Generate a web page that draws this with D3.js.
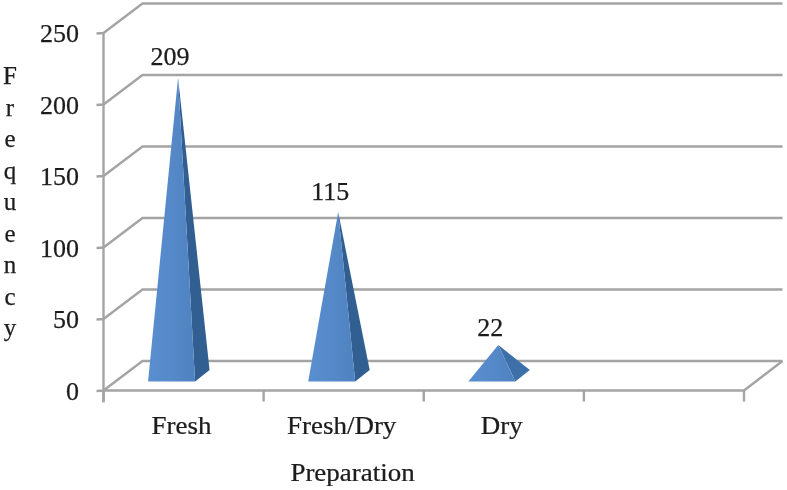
<!DOCTYPE html>
<html><head><meta charset="utf-8">
<script src="https://cdnjs.cloudflare.com/ajax/libs/d3/7.8.5/d3.min.js"></script>
<style>html,body{margin:0;padding:0;background:#fff}svg{display:block}text{font-family:"Liberation Serif",serif;fill:#1c1c1c;stroke:#1c1c1c;stroke-width:0.25}</style>
</head><body><svg id="c" width="787" height="490"></svg>
<script>
const categories = ["Fresh", "Fresh/Dry", "Dry", " "];
const frequency = [209, 115, 22];
const yTicks = [0, 50, 100, 150, 200, 250];
const yTitleLetters = ["F","r","e","q","u","e","n","c","y"];
const xTitle = "Preparation";

const svg = d3.select("#c");
const defs = svg.append("defs");
const blur = defs.append("filter").attr("id","soft").attr("x","-5%").attr("y","-5%").attr("width","110%").attr("height","110%");
blur.append("feGaussianBlur").attr("stdDeviation",0.65);
const g = svg.append("g").attr("filter","url(#soft)");

const depthX = 39, depthY = -29.5;
const y = d3.scaleLinear().domain([0,250]).range([390.5,33]);
const x = d3.scaleBand().domain(categories).range([103.5,744]);
const wall = "#a4a4a4";

const grid = g.append("g").attr("fill","none").attr("stroke",wall).attr("stroke-width",2.4);
yTicks.forEach(t=>{
  const pts = [[x.range()[0]-7, y(t)+0.5],[x.range()[0], y(t)],[x.range()[0]+depthX, y(t)+depthY],[x.range()[1]+depthX-0.5, y(t)+depthY]];
  grid.append("path").attr("d", d3.line()(pts));
});
grid.append("path").attr("d", d3.line()([[x.range()[0],y(250)],[x.range()[0],y(0)+12]]));
grid.append("path").attr("d", d3.line()([[x.range()[0],y(0)],[x.range()[1],y(0)],[x.range()[1]+depthX-0.5,y(0)+depthY]]));
const xEdges = categories.map(c=>x(c)).concat([x.range()[1]]);
grid.selectAll("line.t").data(xEdges).join("line")
  .attr("x1",d=>d).attr("x2",d=>d).attr("y1",y(0)).attr("y2",y(0)+11);

const halfFront = 23.5, baseFrontY = 381.5, baseBackX = 14.5, baseBackY = -11.5;
const apexShift = -5.5, frontShift = -6.5;
const grad = (id,a,b)=>{ const l = defs.append("linearGradient").attr("id",id).attr("x1","0").attr("x2","1").attr("y1","0").attr("y2","0");
  l.append("stop").attr("offset","0").attr("stop-color",a); l.append("stop").attr("offset","1").attr("stop-color",b); };
grad("front","#5a8fd0","#4f82c0");
grad("side","#2f5d90","#335f92");
const pyr = g.append("g");
const labelDrop = [13, 12, 9];
frequency.forEach((v,i)=>{
  const c = x(categories[i]) + x.bandwidth()/2 + apexShift;
  const cx0 = c + frontShift;
  const l = cx0 - halfFront, r = cx0 + halfFront;
  const bx = r + baseBackX, by = baseFrontY + baseBackY;
  const apexX = c, apexY = y(0) - 14 - (y(0)-y(v));
  pyr.append("path").attr("d", d3.line()([[r,baseFrontY],[bx,by],[apexX,apexY]])+"Z").attr("fill", v<50 ? "#3d6fa9" : "url(#side)");
  pyr.append("path").attr("d", d3.line()([[l,baseFrontY],[r,baseFrontY],[apexX,apexY]])+"Z").attr("fill","url(#front)");
  g.append("text").attr("x",apexX-8).attr("y",apexY-labelDrop[i]).attr("text-anchor","middle").attr("font-size",26).text(v);
});

g.selectAll("text.yt").data(yTicks).join("text").attr("class","yt")
  .attr("x",79).attr("y",d=>y(d)+9).attr("text-anchor","end").attr("font-size",26).text(d=>d);
const wideText = (px,py,s,size)=> g.append("g").attr("transform",`translate(${px},${py}) scale(1.1,1)`)
  .append("text").attr("text-anchor","middle").attr("font-size",size).text(s);
categories.slice(0,3).forEach(c=>{
  wideText(x(c)+x.bandwidth()/2-2,433.5,c,24.5);
});
wideText(352.5,481,xTitle,24.5);
const yTitleY = d3.scalePoint().domain(d3.range(yTitleLetters.length)).range([77,329]);
yTitleLetters.forEach((ch,i)=>{
  g.append("text").attr("x",10).attr("y",yTitleY(i)+7).attr("text-anchor","middle").attr("font-size",25).text(ch);
});
</script></body></html>
